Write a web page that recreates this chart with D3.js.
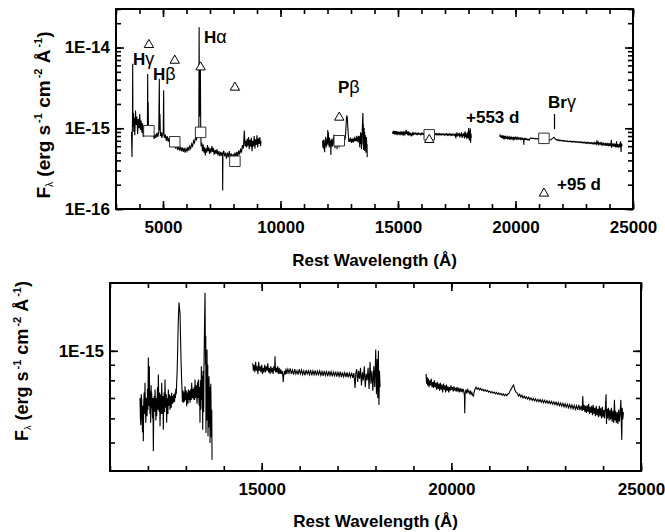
<!DOCTYPE html>
<html>
<head>
<meta charset="utf-8">
<script src="https://cdn.jsdelivr.net/npm/d3@7"></script>
<style>
body { margin: 0; background: #fff; }
text { font-family: "Liberation Sans", Arial, sans-serif; font-weight: bold; fill: #000; }
</style>
</head>
<body>
<svg id="chart" width="665" height="532"></svg>
<script>
// spectra: [rest wavelength (A), flux in units of 1e-16 erg s-1 cm-2 A-1]
const optical = [[3660,9.0],[3680,4.4],[3700,12.0],[3710,63],[3720,10.5],[3740,15.5],[3760,9.0],[3780,13.5],[3800,8.2],[3830,16.6],[3860,11.0],[3890,14.0],[3920,8.5],[3950,13.0],[3980,10.0],[4010,15.0],[4040,9.5],[4070,12.5],[4100,8.8],[4130,11.5],[4160,7.8],[4190,10.5],[4220,8.0],[4250,9.5],[4280,8.5],[4310,10.0],[4335,9.0],[4348,47],[4358,9.5],[4370,21],[4380,9.0],[4420,9.8],[4460,8.6],[4500,9.4],[4540,8.0],[4580,9.0],[4620,7.4],[4660,8.4],[4700,7.6],[4740,8.8],[4780,7.8],[4820,9.0],[4843,41],[4855,9.5],[4870,15.0],[4890,8.0],[4920,9.0],[4950,7.6],[4990,8.5],[5010,9.0],[5028,29.5],[5040,8.2],[5070,7.6],[5100,8.4],[5140,7.0],[5180,8.0],[5220,6.8],[5260,7.6],[5300,6.5],[5340,7.2],[5380,6.2],[5420,6.9],[5460,5.8],[5500,6.5],[5540,5.6],[5580,6.3],[5620,5.4],[5660,6.0],[5700,5.3],[5740,5.9],[5780,5.2],[5820,5.8],[5860,5.1],[5900,5.7],[5940,5.0],[5980,5.6],[6020,5.2],[6060,5.9],[6100,5.3],[6140,6.0],[6180,5.6],[6220,6.4],[6260,6.0],[6300,7.0],[6340,6.6],[6380,7.6],[6420,7.2],[6460,8.0],[6500,8.4],[6525,11],[6537,178],[6552,14],[6590,60],[6605,10],[6620,6.0],[6650,6.6],[6680,5.2],[6710,6.3],[6740,5.0],[6770,5.8],[6800,4.6],[6830,5.6],[6860,5.0],[6890,6.2],[6920,5.2],[6950,5.8],[6980,4.8],[7010,5.6],[7040,5.0],[7080,6.0],[7110,5.1],[7140,5.7],[7180,4.7],[7220,5.4],[7260,4.8],[7300,5.5],[7340,4.6],[7380,5.2],[7420,4.5],[7460,5.1],[7500,4.6],[7530,5.0],[7540,1.7],[7550,4.8],[7580,5.3],[7620,4.5],[7660,5.0],[7700,4.2],[7740,5.0],[7780,4.4],[7820,5.2],[7860,4.3],[7900,4.9],[7940,4.1],[7980,4.8],[8020,4.3],[8060,5.0],[8100,4.4],[8140,5.1],[8180,4.5],[8220,5.3],[8260,4.7],[8300,5.6],[8340,5.0],[8380,6.2],[8420,5.6],[8460,9.4],[8490,6.0],[8520,7.0],[8550,5.8],[8580,7.4],[8610,6.0],[8640,7.8],[8670,5.5],[8700,7.2],[8730,5.9],[8760,7.6],[8790,5.2],[8820,7.0],[8850,6.0],[8880,8.0],[8910,5.6],[8940,7.3],[8970,6.2],[9000,8.2],[9030,5.8],[9060,7.5],[9090,6.4],[9120,7.8],[9150,6.0],[9170,7.0]];

const jBand = [[11791,7.0],[11802,6.0],[11813,5.7],[11824,7.2],[11835,6.9],[11846,6.0],[11857,5.4],[11868,6.6],[11879,5.05],[11890,6.8],[11901,7.3],[11912,6.2],[11923,7.85],[11934,6.5],[11945,5.8],[11956,7.0],[11967,6.9],[11978,6.1],[11989,7.5],[12000,6.4],[12011,9.5],[12024,6.6],[12037,8.9],[12046,6.9],[12055,6.2],[12064,7.4],[12072,5.8],[12085,7.7],[12092,6.5],[12099,7.3],[12110,6.6],[12121,6.0],[12132,7.0],[12143,4.68],[12154,6.4],[12165,7.1],[12176,6.3],[12187,7.46],[12198,6.8],[12209,5.9],[12220,7.0],[12231,6.1],[12242,6.9],[12253,7.6],[12264,6.4],[12275,8.36],[12286,6.8],[12297,6.3],[12308,7.3],[12319,5.65],[12330,6.6],[12341,7.2],[12352,6.2],[12363,7.85],[12374,6.9],[12385,6.2],[12396,7.1],[12406,5.51],[12417,6.6],[12428,7.3],[12439,6.3],[12450,8.05],[12461,6.9],[12472,6.5],[12483,7.2],[12494,5.8],[12505,6.7],[12516,7.0],[12527,6.2],[12538,7.46],[12549,6.9],[12560,6.6],[12571,7.2],[12582,6.41],[12593,6.9],[12604,7.1],[12615,6.5],[12626,7.28],[12637,6.8],[12648,6.7],[12659,7.1],[12670,6.75],[12681,7.2],[12692,7.0],[12703,6.8],[12714,7.28],[12725,7.0],[12736,7.5],[12747,7.2],[12758,7.85],[12770,8.5],[12784,10.1],[12800,12.5],[12819,14.4],[12833,13.8],[12846,13.3],[12860,11.0],[12872,9.4],[12886,8.2],[12899,7.46],[12908,6.8],[12916,7.0],[12925,7.4],[12934,6.75],[12945,7.1],[12956,7.3],[12967,6.8],[12978,7.65],[12989,7.1],[13000,6.9],[13011,7.4],[13022,6.58],[13033,7.0],[13044,7.3],[13055,6.7],[13066,7.46],[13077,7.0],[13088,6.9],[13099,7.4],[13110,6.75],[13121,7.1],[13132,7.5],[13143,6.9],[13154,7.85],[13165,7.2],[13176,7.0],[13187,7.5],[13198,6.92],[13209,7.3],[13220,7.6],[13231,6.9],[13241,8.05],[13252,7.0],[13263,7.2],[13274,7.7],[13285,7.1],[13296,6.7],[13307,7.9],[13318,7.0],[13329,8.05],[13340,7.2],[13351,6.6],[13362,7.6],[13373,5.8],[13381,8.0],[13390,7.5],[13399,6.4],[13408,8.9],[13417,7.4],[13426,6.9],[13435,8.3],[13444,5.51],[13453,8.6],[13462,7.9],[13470,6.3],[13479,9.13],[13492,12.0],[13505,15.5],[13518,9.0],[13525,11.2],[13531,5.37],[13538,8.4],[13545,7.2],[13552,5.9],[13558,10.1],[13565,7.6],[13571,6.5],[13578,9.0],[13584,5.24],[13591,8.0],[13597,6.9],[13604,5.6],[13610,8.25],[13617,7.2],[13623,6.0],[13630,7.6],[13637,4.98],[13644,7.0],[13650,5.9],[13657,7.8],[13663,6.92],[13670,5.2],[13676,5.5],[13683,6.4],[13690,4.39]];

const hBand = [[14763,9.1],[14780,8.6],[14800,9.0],[14820,8.5],[14840,9.2],[14860,8.6],[14880,8.9],[14900,8.4],[14920,9.2],[14940,8.6],[14960,8.9],[14980,8.5],[15000,9.0],[15020,8.4],[15040,8.8],[15060,8.5],[15080,9.0],[15100,8.5],[15120,8.9],[15140,8.6],[15160,9.1],[15180,8.5],[15200,8.8],[15220,8.4],[15240,8.9],[15260,8.5],[15280,8.8],[15300,8.4],[15320,8.9],[15340,8.6],[15351,9.6],[15365,8.5],[15380,8.8],[15400,8.5],[15420,8.9],[15440,8.4],[15460,8.8],[15480,8.4],[15500,8.7],[15520,8.4],[15540,8.6],[15555,8.3],[15567,7.9],[15580,8.3],[15600,8.6],[15620,8.35],[15640,8.75],[15660,8.4],[15690,8.7],[15720,8.45],[15750,8.75],[15780,8.4],[15810,8.65],[15840,8.35],[15870,8.7],[15900,8.4],[15930,8.6],[15960,8.35],[15990,8.7],[16020,8.4],[16050,8.65],[16080,8.35],[16110,8.6],[16140,8.3],[16170,8.65],[16200,8.4],[16230,8.6],[16260,8.35],[16290,8.65],[16320,8.3],[16350,8.6],[16380,8.35],[16410,8.62],[16440,8.3],[16470,8.58],[16500,8.35],[16530,8.6],[16560,8.3],[16590,8.55],[16620,8.28],[16650,8.6],[16680,8.3],[16710,8.55],[16740,8.25],[16770,8.58],[16800,8.3],[16830,8.55],[16860,8.25],[16890,8.52],[16920,8.28],[16950,8.55],[16980,8.22],[17010,8.5],[17040,8.25],[17070,8.55],[17100,8.2],[17130,8.5],[17160,8.22],[17190,8.48],[17220,8.2],[17250,8.5],[17280,8.18],[17310,8.45],[17340,8.2],[17370,8.48],[17400,8.15],[17430,8.45],[17461,7.55],[17480,8.4],[17505,8.7],[17530,7.9],[17555,8.6],[17580,8.1],[17605,8.8],[17630,7.7],[17655,8.5],[17680,8.0],[17705,8.9],[17730,7.6],[17755,8.4],[17780,8.0],[17805,8.8],[17830,7.5],[17856,9.2],[17880,7.8],[17905,8.6],[17930,7.4],[17955,8.9],[17980,7.6],[18006,10.1],[18025,7.2],[18045,9.4],[18060,7.0],[18076,10.0],[18090,6.64],[18105,8.6],[18120,7.6]];

const kBand = [[19333,8.4],[19345,7.8],[19360,8.2],[19375,7.7],[19394,8.1],[19410,7.6],[19430,8.0],[19450,7.7],[19470,8.1],[19490,7.6],[19510,7.9],[19530,7.55],[19550,8.0],[19570,7.6],[19590,7.85],[19610,7.45],[19630,7.9],[19650,7.5],[19670,7.8],[19690,7.4],[19710,7.85],[19730,7.45],[19750,7.75],[19770,7.3],[19790,7.8],[19810,7.45],[19830,7.7],[19850,7.3],[19870,7.75],[19890,7.4],[19910,7.65],[19930,7.3],[19950,7.6],[19970,7.4],[19990,7.7],[20010,7.45],[20030,7.6],[20050,7.35],[20070,7.65],[20090,7.4],[20110,7.55],[20130,7.35],[20150,7.6],[20170,7.4],[20190,7.5],[20210,7.3],[20230,7.55],[20250,7.35],[20270,7.5],[20290,7.3],[20310,7.5],[20330,7.35],[20345,7.1],[20353,6.24],[20362,7.2],[20380,7.45],[20400,7.3],[20420,7.45],[20440,7.3],[20460,7.4],[20480,7.25],[20500,7.35],[20520,7.2],[20540,7.3],[20560,7.15],[20581,7.1],[20600,7.3],[20625,7.5],[20651,7.6],[20680,7.48],[20710,7.55],[20740,7.45],[20770,7.52],[20800,7.42],[20830,7.48],[20860,7.38],[20890,7.45],[20920,7.36],[20950,7.42],[20980,7.32],[21010,7.38],[21040,7.28],[21070,7.35],[21100,7.26],[21130,7.32],[21160,7.22],[21190,7.3],[21220,7.2],[21250,7.27],[21280,7.18],[21310,7.25],[21340,7.15],[21370,7.22],[21400,7.12],[21430,7.2],[21460,7.12],[21490,7.22],[21520,7.25],[21550,7.4],[21580,7.5],[21610,7.62],[21640,7.72],[21654,7.6],[21680,7.4],[21710,7.3],[21740,7.25],[21770,7.1],[21800,7.2],[21830,7.05],[21860,7.15],[21890,7.0],[21920,7.1],[21950,6.98],[21980,7.06],[22010,6.94],[22040,7.04],[22070,6.9],[22100,7.0],[22130,6.88],[22160,6.98],[22190,6.85],[22220,6.95],[22250,6.83],[22280,6.93],[22310,6.8],[22340,6.92],[22370,6.78],[22400,6.9],[22430,6.76],[22460,6.88],[22490,6.74],[22520,6.86],[22550,6.72],[22580,6.84],[22610,6.7],[22640,6.82],[22670,6.68],[22700,6.8],[22730,6.66],[22760,6.78],[22790,6.63],[22820,6.76],[22850,6.6],[22880,6.74],[22910,6.58],[22940,6.72],[22970,6.55],[23000,6.7],[23030,6.52],[23060,6.68],[23090,6.5],[23120,6.66],[23150,6.48],[23180,6.64],[23210,6.45],[23240,6.62],[23270,6.42],[23300,6.6],[23330,6.4],[23360,6.65],[23390,6.38],[23420,6.6],[23450,6.35],[23464,7.1],[23480,6.4],[23500,6.65],[23520,6.3],[23540,6.6],[23560,6.25],[23580,6.62],[23600,6.3],[23620,6.7],[23640,6.2],[23660,6.55],[23680,6.25],[23700,6.6],[23720,6.15],[23740,6.65],[23760,6.2],[23780,6.5],[23800,6.1],[23820,6.6],[23840,6.15],[23860,6.45],[23880,6.05],[23900,6.6],[23920,6.1],[23940,6.5],[23960,6.0],[23980,6.55],[24000,6.05],[24020,6.4],[24040,6.0],[24060,6.5],[24080,7.2],[24090,5.75],[24105,6.45],[24120,6.0],[24140,6.5],[24160,5.9],[24180,6.4],[24200,5.95],[24220,6.5],[24240,5.85],[24260,6.35],[24280,5.8],[24300,6.9],[24315,5.9],[24330,6.35],[24350,5.8],[24370,6.3],[24390,5.75],[24410,6.4],[24430,5.85],[24450,6.3],[24470,6.9],[24480,5.9],[24493,5.1],[24505,6.5],[24520,5.95],[24537,6.3]];

// photometry (same units): +95 d triangles, +553 d squares
const photWave = [4400, 5500, 6600, 8060, 12500, 16330, 21210];
const phot95 = [108, 69, 57, 32, 13.6, 7.2, 1.56];
const phot553 = [9.3, 6.8, 8.9, 3.9, 7.0, 8.3, 7.5];

// axis ticks
const topXTicks = [5000, 10000, 15000, 20000, 25000];
const topYTicks = [1e-16, 1e-15, 1e-14];
const botXTicks = [15000, 20000, 25000];
const botYTicks = [1e-15];

const svg = d3.select("#chart");
const unit = 1e-16;
const logLabel = d => "1E" + Math.round(Math.log10(d));

function panel(box, xDomain, yDomain, xTicks, yTicks) {
    const x = d3.scaleLinear().domain(xDomain).range([box.left, box.right]);
    const y = d3.scaleLog().domain(yDomain).range([box.bottom, box.top]);
    const minorX = d3.range(Math.ceil(xDomain[0] / 1000) * 1000, xDomain[1] + 1, 1000);
    const minorY = y.ticks();

    const axes = svg.append("g").attr("class", "axes");
    const tick = (axis, tr) => {
        const g = axes.append("g").attr("transform", tr).call(axis);
        g.select(".domain").remove();
        g.selectAll("line").attr("stroke", "#000").attr("stroke-width", 1.6);
        g.selectAll("text").style("font-size", "17px").attr("font-family", null);
        return g;
    };
    // minor ticks on all four sides
    tick(d3.axisBottom(x).tickValues(minorX).tickSize(-5).tickFormat(""), `translate(0,${box.bottom})`);
    tick(d3.axisTop(x).tickValues(minorX).tickSize(-5).tickFormat(""), `translate(0,${box.top})`);
    tick(d3.axisLeft(y).tickValues(minorY).tickSize(-5).tickFormat(""), `translate(${box.left},0)`);
    tick(d3.axisRight(y).tickValues(minorY).tickSize(-5).tickFormat(""), `translate(${box.right},0)`);
    // major ticks
    const xb = tick(d3.axisBottom(x).tickValues(xTicks).tickSize(-8).tickFormat(d3.format("d")), `translate(0,${box.bottom})`);
    xb.selectAll("text").attr("y", 24).attr("dy", null);
    tick(d3.axisTop(x).tickValues(xTicks).tickSize(-8).tickFormat(""), `translate(0,${box.top})`);
    tick(d3.axisLeft(y).tickValues(yTicks).tickSize(-8).tickPadding(6).tickFormat(logLabel), `translate(${box.left},0)`);
    tick(d3.axisRight(y).tickValues(yTicks).tickSize(-8).tickFormat(""), `translate(${box.right},0)`);
    axes.selectAll("text").filter(function () { return this.textContent === ""; }).remove();

    svg.append("rect")
        .attr("x", box.left).attr("y", box.top)
        .attr("width", box.right - box.left).attr("height", box.bottom - box.top)
        .attr("fill", "none").attr("stroke", "#000").attr("stroke-width", 2);

    const line = d3.line().x(d => x(d[0])).y(d => y(d[1] * unit));
    return { x, y, line };
}

function spectra(p, list) {
    list.forEach(s => {
        svg.append("path").datum(s)
            .attr("d", p.line)
            .attr("fill", "none").attr("stroke", "#000").attr("stroke-width", 1.1);
    });
}

function yTitle(tx, ty, size) {
    const t = svg.append("text")
        .attr("transform", `translate(${tx},${ty}) rotate(-90)`)
        .attr("text-anchor", "middle")
        .style("font-size", size + "px");
    const sup = Math.round(size * 0.6);
    t.append("tspan").text("F");
    t.append("tspan").attr("dy", 3).style("font-size", Math.round(size * 0.5) + "px").style("font-weight", "normal").text("λ");
    t.append("tspan").attr("dy", -3).text(" (erg s");
    t.append("tspan").attr("dy", -size * 0.4).attr("dx", 2).style("font-size", sup + "px").text("-1");
    t.append("tspan").attr("dy", size * 0.4).text(" cm");
    t.append("tspan").attr("dy", -size * 0.4).attr("dx", 2).style("font-size", sup + "px").text("-2");
    t.append("tspan").attr("dy", size * 0.4).text(" Å");
    t.append("tspan").attr("dy", -size * 0.4).attr("dx", 2).style("font-size", sup + "px").text("-1");
    t.append("tspan").attr("dy", size * 0.4).text(")");
}

function xTitle(cx, by) {
    svg.append("text").attr("x", cx).attr("y", by)
        .attr("text-anchor", "middle").style("font-size", "17px")
        .text("Rest Wavelength (Å)");
}

// ---------------- top panel
const topP = panel({ left: 116, right: 633, top: 9, bottom: 209 },
    [3000, 25000], [1e-16, 3e-14], topXTicks, topYTicks);
spectra(topP, [optical, jBand, hBand, kBand]);

const phot = photWave.map((w, i) => ({ w, tri: phot95[i], sq: phot553[i] }));
svg.append("g").selectAll("path.sq").data(phot).join("path")
    .attr("class", "sq")
    .attr("transform", d => `translate(${topP.x(d.w)},${topP.y(d.sq * unit)})`)
    .attr("d", d3.symbol(d3.symbolSquare, 110))
    .attr("fill", "#fff").attr("stroke", "#333").attr("stroke-width", 1);
svg.append("g").selectAll("path.tri").data(phot).join("path")
    .attr("class", "tri")
    .attr("transform", d => `translate(${topP.x(d.w)},${topP.y(d.tri * unit)})`)
    .attr("d", d3.symbol(d3.symbolTriangle, 38))
    .attr("fill", "#fff").attr("stroke", "#000").attr("stroke-width", 1);

function label(x, y, main, greek) {
    const t = svg.append("text").attr("x", x).attr("y", y).style("font-size", "17px");
    t.append("tspan").text(main);
    if (greek) t.append("tspan").style("font-weight", "normal").style("font-size", "18px").text(greek);
}
label(133, 65, "H", "γ");
label(153, 80, "H", "β");
label(204, 43, "H", "α");
label(338, 93, "P", "β");
label(548, 108, "Br", "γ");
label(466, 123, "+553 d");
label(557, 190, "+95 d");
svg.append("line")
    .attr("x1", topP.x(21660)).attr("x2", topP.x(21660))
    .attr("y1", 114).attr("y2", 129)
    .attr("stroke", "#000").attr("stroke-width", 1.2);

yTitle(50, 115, 19);
xTitle(374.5, 266);

// ---------------- bottom panel (NIR spectra at larger scale)
const botP = panel({ left: 110, right: 641, top: 283, bottom: 471 },
    [11000, 25000], [4.03e-16, 1.67e-15], botXTicks, botYTicks);
spectra(botP, [jBand, hBand, kBand]);

yTitle(28, 361, 18);
xTitle(375.5, 527);
</script>
</body>
</html>
